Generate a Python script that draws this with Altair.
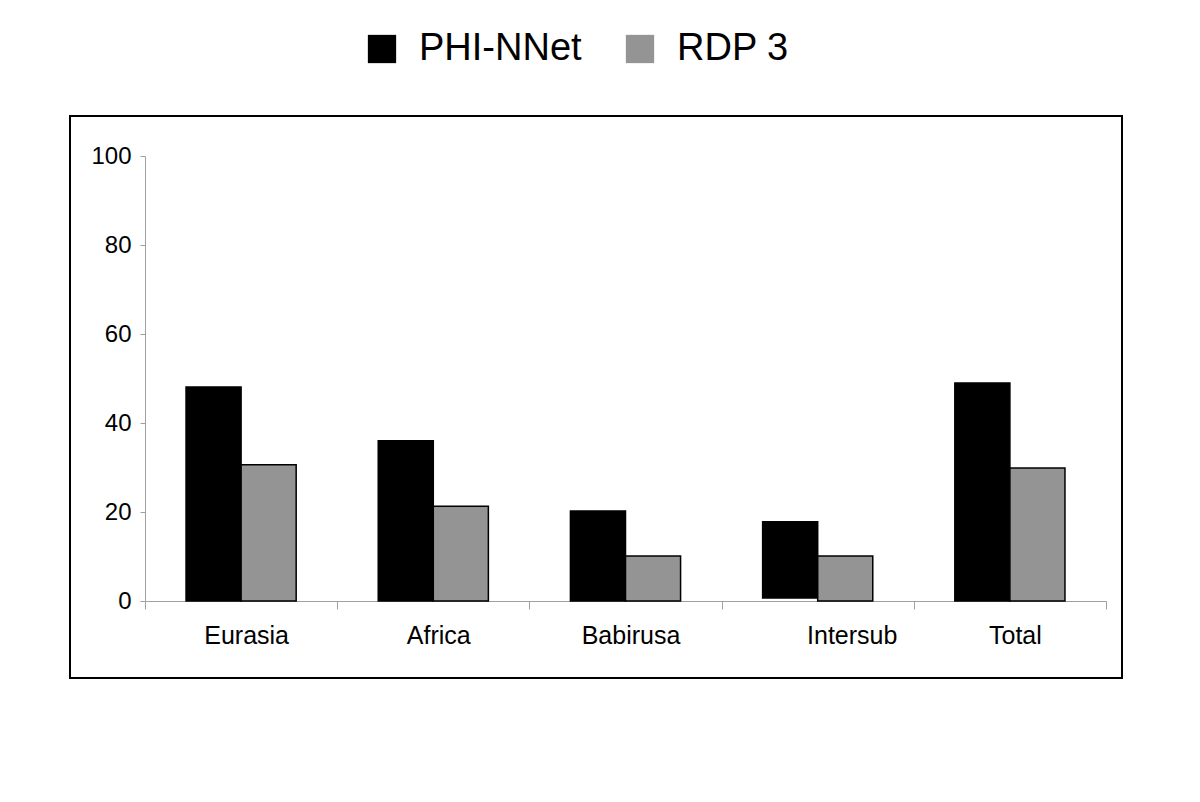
import altair as alt
import pandas as pd

categories = ["Eurasia", "Africa", "Babirusa", "Intersub", "Total"]
series_names = ["PHI-NNet", "RDP 3"]
phi_values = [48.1, 36.0, 20.2, 17.8, 49.0]
phi_base = [0, 0, 0, 0.7, 0]
rdp_values = [30.6, 21.3, 10.1, 10.1, 29.9]
rdp_base = [0, 0, 0, 0, 0]
y_ticks = [0, 20, 40, 60, 80, 100]
colors = ["#000000", "#949494"]

rows = []
for i, c in enumerate(categories):
    rows.append({"category": c, "series": series_names[0], "value": phi_values[i], "base": phi_base[i]})
    rows.append({"category": c, "series": series_names[1], "value": rdp_values[i], "base": rdp_base[i]})
df = pd.DataFrame(rows)

FONT = "Liberation Sans"

bars = alt.Chart(df).mark_bar(stroke="#000000", strokeWidth=1.5).encode(
    x=alt.X("category:N", sort=categories, title=None,
            scale=alt.Scale(paddingInner=0, paddingOuter=0),
            axis=alt.Axis(labelAngle=0, labelFontSize=25, labelFont=FONT, labelColor="#000000",
                          labelPadding=14, tickBand="extent", tickSize=8, tickColor="#a0a0a0",
                          labelOffset={"condition": {"test": "datum.label == 'Intersub'", "value": 34},
                                       "value": 5},
                          domainColor="#a0a0a0", domainWidth=1, grid=False)),
    xOffset=alt.XOffset("series:N", sort=series_names,
                        scale=alt.Scale(paddingInner=0, paddingOuter=0.745)),
    y=alt.Y("value:Q", title=None,
            scale=alt.Scale(domain=[0, 100], nice=False),
            axis=alt.Axis(values=y_ticks, labelFontSize=24, labelFont=FONT, labelColor="#000000",
                          tickSize=5, tickColor="#a0a0a0", domainColor="#a0a0a0",
                          labelPadding=9, grid=False)),
    y2="base:Q",
    color=alt.Color("series:N", sort=series_names,
                    scale=alt.Scale(domain=series_names, range=colors),
                    legend=alt.Legend(title=None, orient="none", direction="horizontal",
                                      legendX=218, legendY=-126,
                                      symbolType="square", symbolSize=800, symbolStrokeWidth=0,
                                      labelFontSize=38, labelFont=FONT, labelColor="#000000",
                                      labelOffset=18, columnPadding=39, labelLimit=400)),
)

frame = alt.Chart(pd.DataFrame({"a": [0]})).mark_rect(
    fill=None, stroke="#000000", strokeWidth=2
).encode(
    x=alt.value(-75), x2=alt.value(977), y=alt.value(-40), y2=alt.value(522)
)

chart = alt.layer(frame, bars).properties(
    width=961, height=445,
    autosize=alt.AutoSizeParams(type="none"),
    padding={"left": 137, "top": 148, "right": 80, "bottom": 180},
).configure_view(stroke=None)

chart.save("out.html", embed_options={"renderer": "svg", "actions": False})
